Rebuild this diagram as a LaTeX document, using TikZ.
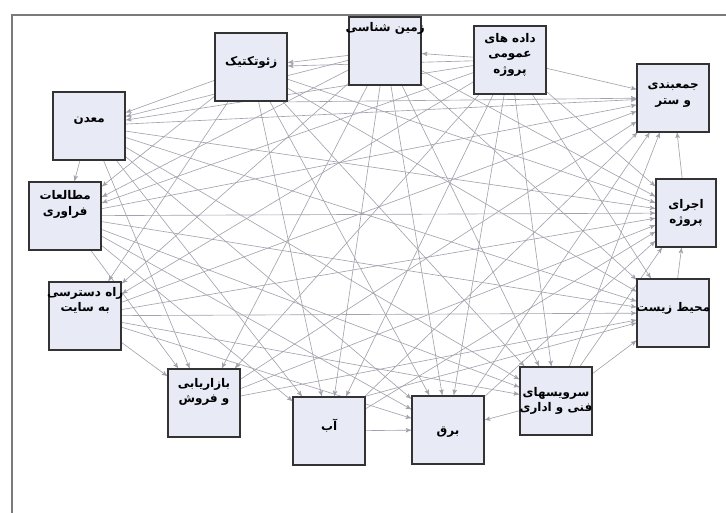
\documentclass[tikz,border=0pt]{standalone}
\usepackage{fontspec}
\usepackage{tikz}
\usetikzlibrary{arrows}
\newfontfamily\farsifont[Script=Arabic]{DejaVu Sans}
\TeXXeTstate=1
\definecolor{boxfill}{HTML}{E8EAF6}
\definecolor{linegray}{HTML}{A2A2AE}
\definecolor{framegray}{HTML}{7A7A7A}
\pgfdeclarelayer{background}
\pgfsetlayers{background,main}
\tikzset{
  box/.style={rectangle,draw=black!80,line width=1.3pt,fill=boxfill,
    minimum width=1.8cm,minimum height=1.7cm,inner sep=0pt},
  txt/.style={align=center,font=\farsifont\bfseries\fontsize{8.5}{11}\selectfont,inner sep=1pt},
  link/.style={->,draw=linegray,line width=0.45pt}
}

\begin{document}
\begin{tikzpicture}[>=stealth']
			\useasboundingbox (0,0) rectangle (18.15,12.825);
			\draw[framegray,line width=0.8pt] (0.3,0) -- (0.3,12.45) -- (18.15,12.45);
			% boxes
			\node[box,label={[txt,yshift=16pt]center:{\beginR زمین شناسی\endR}}](zam)at(9.63,11.55){};
			\node[box,label={[txt,yshift=3.5pt]center:{\beginR زئوتکتیک\endR}}](geo)at(6.28,11.15){};
			\node[box,label={[txt,yshift=3.5pt]center:{\beginR داده های\endR\\\beginR عمومی\endR\\\beginR پروژه\endR}}](dad)at(12.75,11.33){};
			\node[box,label={[txt,yshift=2pt]center:{\beginR جمعبندی\endR\\\beginR و ستر\endR}}](jam)at(16.83,10.38){};
			\node[box,minimum width=1.5cm,label={[txt]center:{\beginR اجرای\endR\\\beginR پروژه\endR}}](ejr)at(17.15,7.5){};
			\node[box,label={[txt,yshift=3.5pt]center:{\beginR محیط زیست\endR}}](moh)at(16.83,5){};
			\node[box,label={[txt]center:{\beginR سرویسهای\endR\\\beginR فنی و اداری\endR}}](srv)at(13.9,2.8){};
			\node[box,label={[txt,yshift=-1.4pt]center:{\beginR برق\endR}}](brq)at(11.2,2.08){};
			\node[box,label={[txt,yshift=4pt]center:{\beginR آب\endR}}](ab)at(8.23,2.05){};
			\node[box,label={[txt,yshift=8pt]center:{\beginR بازاریابی\endR\\\beginR و فروش\endR}}](baz)at(5.1,2.75){};
			\node[box,label={[txt,yshift=11pt]center:{\beginR راه دسترسی\endR\\\beginR به سایت\endR}}](rah)at(2.13,4.93){};
			\node[box,label={[txt,yshift=8pt]center:{\beginR مطالعات\endR\\\beginR فراوری\endR}}](mot)at(1.63,7.43){};
			\node[box,label={[txt,yshift=3.5pt]center:{\beginR معدن\endR}}](mad)at(2.23,9.68){};
			% links, behind the boxes
			\begin{pgfonlayer}{background}
			\draw[link](dad)--(zam);
			\draw[link](dad)--(geo);
			\draw[link](dad)--(mad);
			\draw[link](dad)--(mot);
			\draw[link](dad)--(rah);
			\draw[link](dad)--(baz);
			\draw[link](dad)--(ab);
			\draw[link](dad)--(brq);
			\draw[link](dad)--(srv);
			\draw[link](dad)--(moh);
			\draw[link](dad)--(ejr);
			\draw[link](dad)--(jam);
			\draw[link](zam)--(geo);
			\draw[link](zam)--(mad);
			\draw[link](zam)--(mot);
			\draw[link](zam)--(rah);
			\draw[link](zam)--(baz);
			\draw[link](zam)--(ab);
			\draw[link](zam)--(brq);
			\draw[link](zam)--(srv);
			\draw[link](zam)--(moh);
			\draw[link](zam)--(ejr);
			\draw[link](geo)--(mad);
			\draw[link](geo)--(mot);
			\draw[link](geo)--(rah);
			\draw[link](geo)--(ab);
			\draw[link](geo)--(brq);
			\draw[link](geo)--(srv);
			\draw[link](geo)--(moh);
			\draw[link](geo)--(ejr);
			\draw[link](geo.south east)--(jam);
			\draw[link](mad)--(mot);
			\draw[link](mad)--(baz);
			\draw[link](mad)--(ab);
			\draw[link](mad)--(brq);
			\draw[link](mad)--(srv);
			\draw[link](mad)--(moh);
			\draw[link](mad)--(ejr);
			\draw[link](mad)--(jam);
			\draw[link](mot)--(baz);
			\draw[link](mot)--(ab);
			\draw[link](mot)--(brq);
			\draw[link](mot)--(srv);
			\draw[link](mot)--(moh);
			\draw[link](mot)--(ejr);
			\draw[link](mot)--(jam);
			\draw[link](rah)--(baz);
			\draw[link](rah)--(brq);
			\draw[link](rah)--(srv);
			\draw[link](rah)--(moh);
			\draw[link](rah)--(ejr);
			\draw[link](rah)--(jam);
			\draw[link](baz)--(moh);
			\draw[link](baz)--(ejr);
			\draw[link](baz)--(jam);
			\draw[link](ab)--(brq);
			\draw[link](ab.north east)--(moh);
			\draw[link](ab)--(ejr);
			\draw[link](ab)--(jam);
			\draw[link](srv)--(brq);
			\draw[link](srv)--(moh);
			\draw[link](srv)--(ejr);
			\draw[link](srv)--(jam);
			\draw[link](brq)--(ejr);
			\draw[link](brq)--(jam);
			\draw[link](moh)--(ejr);
			\draw[link](ejr)--(jam);
			\end{pgfonlayer}
		\end{tikzpicture}
\end{document}
